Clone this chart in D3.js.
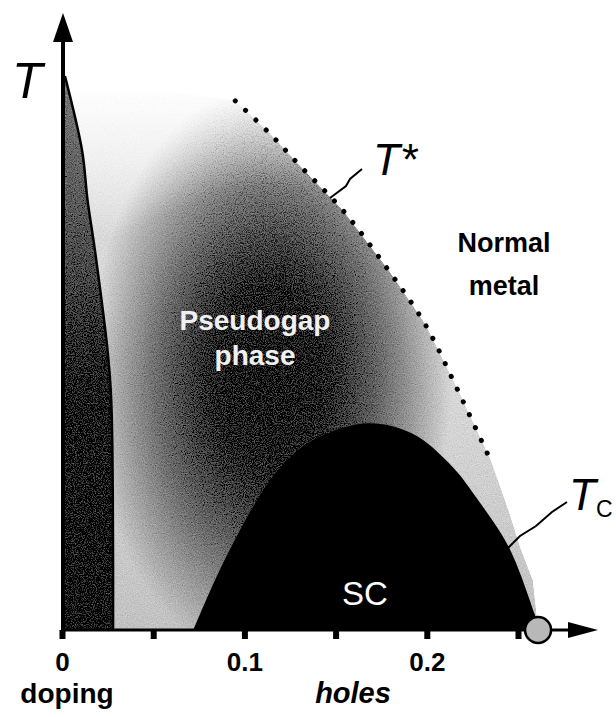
<!DOCTYPE html>
<html>
<head>
<meta charset="utf-8">
<script src="https://cdn.jsdelivr.net/npm/d3@7"></script>
<style>
  body { margin: 0; background: #fff; }
  svg { display: block; font-family: 'Liberation Sans', Arial, sans-serif; }
</style>
</head>
<body>
<svg id="chart" width="616" height="717"></svg>
<script>
// hole doping on x, temperature (rough K) on y
let xTicks = [0, 0.05, 0.1, 0.15, 0.2, 0.25];
let xTickLabels = ['0', '', '0.1', '', '0.2', ''];

// antiferromagnetic wedge, right edge from top to bottom
let afmDoping = [0.0016, 0.011, 0.014, 0.018, 0.025, 0.027, 0.028];
let afmT = [268, 232, 208, 184, 135, 111, 0];

// T* crossover, drawn dotted
let tStarDoping = [0.095, 0.113, 0.130, 0.154, 0.179, 0.199, 0.217, 0.235];
let tStarT = [256, 241, 225, 203, 174, 148, 116, 82];

// pseudogap shading keeps going under T* down to the end of the dome
let pgTailDoping = [0.245, 0.251, 0.258, 0.261];
let pgTailT = [57, 40, 24, 0];

// superconducting dome
let scDoping = [0.072, 0.087, 0.107, 0.120, 0.138, 0.167, 0.192, 0.214, 0.228, 0.245, 0.259, 0.262];
let scT = [0, 30, 63, 79, 92, 100, 95, 79, 63, 40, 8, 0];

// end point of the dome on the axis (grey dot)
let endDoping = 0.261;

let svg = d3.select('#chart');
let xScale = d3.scaleLinear().domain([0, 0.25]).range([62, 518]);
let yScale = d3.scaleLinear().domain([0, 298]).range([630, 14]);

function zip(xs, ys) {
    return xs.map((x, i) => [x, ys[i]]);
}

// gradients for the shaded regions
let defs = svg.append('defs');

let afmGrad = defs.append('linearGradient')
    .attr('id', 'afmGrad')
    .attr('gradientUnits', 'userSpaceOnUse')
    .attr('x1', 0).attr('x2', 0)
    .attr('y1', yScale(268)).attr('y2', yScale(0));
[[0, '#7a7a7a'], [0.35, '#4a4a4a'], [0.6, '#121212'], [1, '#000']].forEach(s => {
    afmGrad.append('stop').attr('offset', s[0]).attr('stop-color', s[1]);
});

// light base, transparent at the top so the region has no hard upper edge
let pgBase = defs.append('linearGradient')
    .attr('id', 'pgBase')
    .attr('gradientUnits', 'userSpaceOnUse')
    .attr('x1', 0).attr('x2', 0)
    .attr('y1', yScale(262)).attr('y2', yScale(0));
[[0, '#fff', 0], [0.18, '#f0f0f0', 0.45], [0.4, '#e0e0e0', 1], [1, '#c2c2c2', 1]].forEach(s => {
    pgBase.append('stop').attr('offset', s[0]).attr('stop-color', s[1]).attr('stop-opacity', s[2]);
});

let cx = 270, cy = 375;
let pgDark = defs.append('radialGradient')
    .attr('id', 'pgDark')
    .attr('gradientUnits', 'userSpaceOnUse')
    .attr('cx', cx).attr('cy', cy).attr('r', 182)
    .attr('gradientTransform', `translate(${cx},${cy}) scale(1,1.6) translate(${-cx},${-cy})`);
[[0, 0.94], [0.3, 0.86], [0.62, 0.5], [1, 0]].forEach(s => {
    pgDark.append('stop').attr('offset', s[0]).attr('stop-color', '#000').attr('stop-opacity', s[1]);
});

// scanned-print speckle on the shaded areas
let grain = defs.append('filter')
    .attr('id', 'grain')
    .attr('x', 0).attr('y', 0).attr('width', '100%').attr('height', '100%');
grain.append('feTurbulence')
    .attr('type', 'fractalNoise').attr('baseFrequency', 0.9)
    .attr('numOctaves', 2).attr('seed', 4).attr('result', 'noise');
grain.append('feColorMatrix')
    .attr('in', 'noise').attr('type', 'matrix')
    .attr('values', '0.33 0.33 0.33 0 0  0.33 0.33 0.33 0 0  0.33 0.33 0.33 0 0  0 0 0 0 1')
    .attr('result', 'grey');
grain.append('feComposite')
    .attr('in', 'SourceGraphic').attr('in2', 'grey')
    .attr('operator', 'arithmetic')
    .attr('k1', 0).attr('k2', 1).attr('k3', 0.6).attr('k4', -0.3)
    .attr('result', 'mixed');
grain.append('feComposite')
    .attr('in', 'mixed').attr('in2', 'SourceGraphic').attr('operator', 'in');

// pseudogap region: from the T axis, along T*, then down to the dome end
let pgPoints = [[0, 0], [0, 268]]
    .concat(zip(tStarDoping, tStarT))
    .concat(zip(pgTailDoping, pgTailT));
let pgLine = d3.line()
    .x(d => xScale(d[0]))
    .y(d => yScale(d[1]))
    .curve(d3.curveLinearClosed);

let shaded = svg.append('g').attr('filter', 'url(#grain)');
shaded.append('path').attr('d', pgLine(pgPoints)).attr('fill', 'url(#pgBase)');
shaded.append('path').attr('d', pgLine(pgPoints)).attr('fill', 'url(#pgDark)');

// antiferromagnetic wedge
let afm = zip(afmDoping, afmT);
let afmArea = d3.area()
    .y(d => yScale(d[1]))
    .x0(xScale(0))
    .x1(d => xScale(d[0]))
    .curve(d3.curveCatmullRom);
shaded.append('path').attr('d', afmArea(afm)).attr('fill', 'url(#afmGrad)');
svg.append('path')
    .attr('d', d3.line().x(d => xScale(d[0])).y(d => yScale(d[1])).curve(d3.curveCatmullRom)(afm))
    .attr('fill', 'none').attr('stroke', '#000').attr('stroke-width', 2.5);

// superconducting dome
let scArea = d3.area()
    .x(d => xScale(d[0]))
    .y0(yScale(0))
    .y1(d => yScale(d[1]))
    .curve(d3.curveCatmullRom);
svg.append('path').attr('d', scArea(zip(scDoping, scT))).attr('fill', '#000');

// T* dotted line
svg.append('path')
    .attr('d', d3.line().x(d => xScale(d[0])).y(d => yScale(d[1])).curve(d3.curveCatmullRom)(zip(tStarDoping, tStarT)))
    .attr('fill', 'none')
    .attr('stroke', '#000')
    .attr('stroke-width', 5)
    .attr('stroke-linecap', 'round')
    .attr('stroke-dasharray', '0.1 14');

// axes
let xAxis = d3.axisBottom(xScale)
    .tickValues(xTicks)
    .tickSize(9)
    .tickPadding(14)
    .tickFormat((d, i) => xTickLabels[i]);

let gx = svg.append('g')
    .attr('transform', `translate(0, ${yScale(0)})`)
    .call(xAxis);
gx.select('.domain').remove();
gx.selectAll('.tick line').attr('stroke', '#000').attr('stroke-width', 6);
gx.selectAll('.tick text')
    .attr('fill', '#000')
    .style('font-family', 'Liberation Sans, Arial, sans-serif')
    .style('font-size', '26px')
    .style('font-weight', 'bold');

let x0 = xScale(0), y0 = yScale(0);
svg.append('line')
    .attr('x1', x0).attr('x2', 572).attr('y1', y0).attr('y2', y0)
    .attr('stroke', '#000').attr('stroke-width', 3);
svg.append('path')
    .attr('d', `M568,${y0 - 8}L598,${y0}L568,${y0 + 8}Z`)
    .attr('fill', '#000');

svg.append('line')
    .attr('x1', x0 + 1).attr('x2', x0 + 1).attr('y1', y0 + 9).attr('y2', 40)
    .attr('stroke', '#000').attr('stroke-width', 4);
svg.append('path')
    .attr('d', `M${x0 - 9},42L${x0 + 1},${yScale(298) - 1}L${x0 + 11},42Z`)
    .attr('fill', '#000');

// grey dot where the dome ends
svg.append('circle')
    .attr('cx', xScale(endDoping)).attr('cy', y0).attr('r', 13)
    .attr('fill', '#b8b8b8').attr('stroke', '#000').attr('stroke-width', 2.5);

// leader lines
svg.append('path').attr('d', 'M330,198L346,186L350,179L362,169')
    .attr('fill', 'none').attr('stroke', '#000').attr('stroke-width', 2);
svg.append('path').attr('d', 'M508,548L520,536L536,526L552,512L567,502')
    .attr('fill', 'none').attr('stroke', '#000').attr('stroke-width', 2);

// labels
function label(text, x, y, size, opts) {
    opts = opts || {};
    return svg.append('text')
        .attr('x', x).attr('y', y)
        .attr('text-anchor', opts.anchor || 'middle')
        .attr('fill', opts.fill || '#000')
        .style('font-size', size + 'px')
        .style('font-weight', opts.weight || 'normal')
        .style('font-style', opts.style || 'normal')
        .text(text);
}

label('T', 12, 98, 50, {anchor: 'start', style: 'italic'});
label('T*', 373, 175, 44, {anchor: 'start', style: 'italic'});
let tc = label('T', 569, 510, 44, {anchor: 'start', style: 'italic'});
tc.append('tspan').attr('dy', 7).style('font-size', '23px').style('font-style', 'normal').text('C');

label('Normal', 504, 252, 27, {weight: 'bold'});
label('metal', 504, 295, 27, {weight: 'bold'});
label('Pseudogap', 255, 330, 28, {weight: 'bold', fill: '#f0f0f0'});
label('phase', 255, 365, 28, {weight: 'bold', fill: '#f0f0f0'});
label('SC', 365, 605, 33, {fill: '#fff'});

label('doping', 67, 703, 28, {weight: 'bold'});
label('holes', 353, 703, 29, {weight: 'bold', style: 'italic'});
</script>
</body>
</html>
